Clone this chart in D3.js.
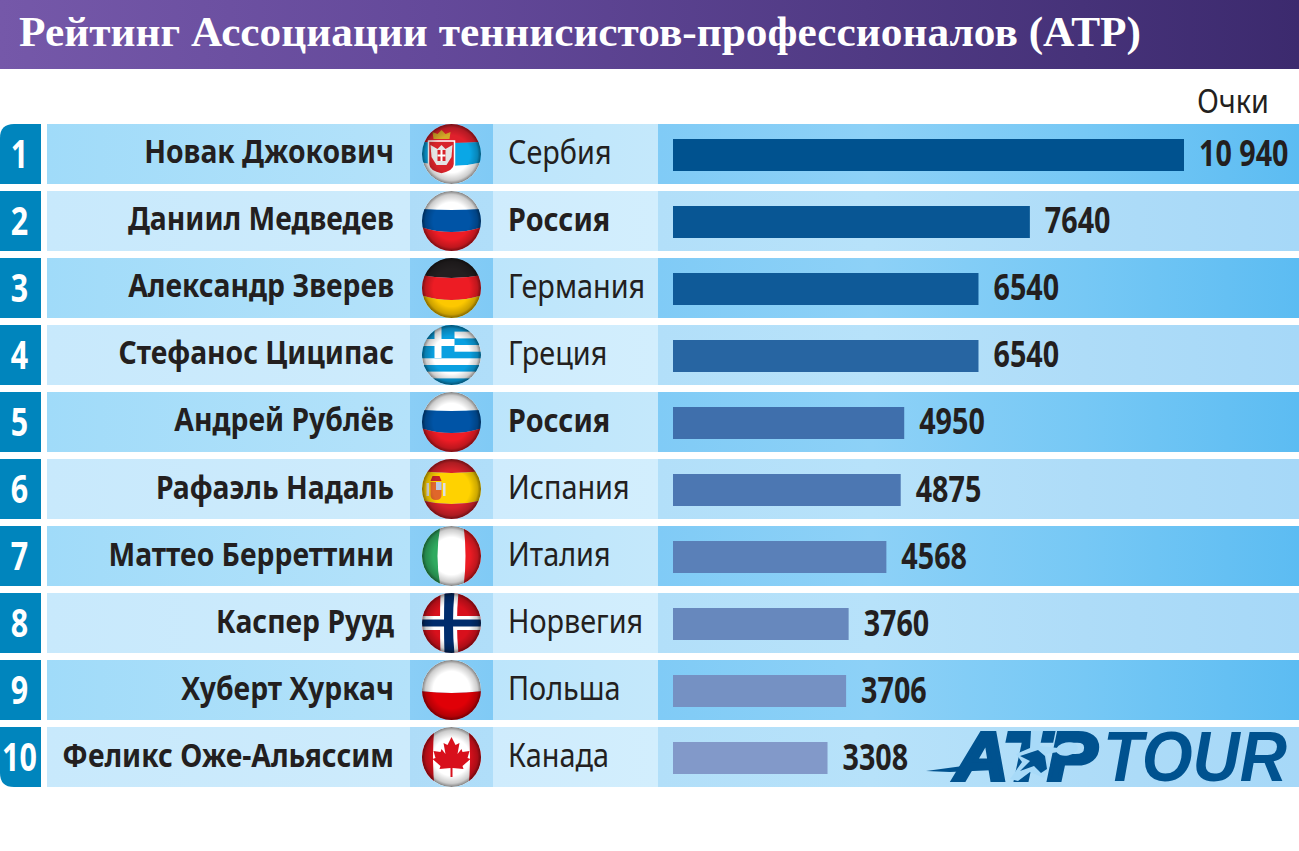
<!DOCTYPE html>
<html>
<head>
<meta charset="utf-8">
<script src="https://d3js.org/d3.v7.min.js"></script>
<style>
    body { margin: 0; background: #fff; }
    svg { display: block; }
    .name { font: bold 32px "Noto Sans", sans-serif; fill: #231f20; }
    .country { font: 32px "Noto Sans", sans-serif; fill: #231f20; }
    .value { font: bold 35px "Noto Sans", sans-serif; fill: #231f20; }
    .rank { font: bold 39px "Noto Sans", sans-serif; fill: #fff; }
</style>
</head>
<body>
<div id="chart"></div>
<script>
const titleText = "Рейтинг Ассоциации теннисистов-профессионалов (ATP)";
const unitLabel = "Очки";
const ranks = [1, 2, 3, 4, 5, 6, 7, 8, 9, 10];
const players = ["Новак Джокович", "Даниил Медведев", "Александр Зверев", "Стефанос Циципас", "Андрей Рублёв",
    "Рафаэль Надаль", "Маттео Берреттини", "Каспер Рууд", "Хуберт Хуркач", "Феликс Оже-Альяссим"];
const countries = ["Сербия", "Россия", "Германия", "Греция", "Россия", "Испания", "Италия", "Норвегия", "Польша", "Канада"];
const points = [10940, 7640, 6540, 6540, 4950, 4875, 4568, 3760, 3706, 3308];
const highlightCountry = "Россия";

const width = 1299;
const height = 851;

const svg = d3.select("#chart").append("svg")
    .attr("width", width)
    .attr("height", height);
const defs = svg.append("defs");

function gradient(id, stops, x1, y1, x2, y2) {
    const g = defs.append("linearGradient").attr("id", id)
        .attr("gradientUnits", "userSpaceOnUse")
        .attr("x1", x1).attr("y1", y1).attr("x2", x2).attr("y2", y2);
    stops.forEach((c, i) => g.append("stop").attr("offset", i / (stops.length - 1)).attr("stop-color", c));
}
gradient("titleBg", ["#7558a9", "#64499a", "#503a84", "#3c2a6e"], 0, 0, 1299, 0);
gradient("nameOdd", ["#a0dbf9", "#b4e2fa"], 47, 0, 410, 0);
gradient("nameEven", ["#c8e9fc", "#cdebfc"], 47, 0, 410, 0);
gradient("flagOdd", ["#8acef6", "#80caf5"], 410, 0, 493, 0);
gradient("flagEven", ["#aedcf8", "#b0def9"], 410, 0, 493, 0);
gradient("countryOdd", ["#bce5fb", "#c4e8fb"], 493, 0, 658, 0);
gradient("countryEven", ["#cfecfd", "#d2eefd"], 493, 0, 658, 0);
gradient("barOdd", ["#80cbf6", "#8dd1f7", "#76c8f5", "#5cbcf2"], 658, 0, 1299, 0);
gradient("barEven", ["#b2dff9", "#b7e2fa", "#aedcf8", "#a6d8f8"], 658, 0, 1299, 0);

const shade = defs.append("radialGradient").attr("id", "globeShade");
shade.append("stop").attr("offset", 0.62).attr("stop-color", "#000").attr("stop-opacity", 0);
shade.append("stop").attr("offset", 0.88).attr("stop-color", "#000").attr("stop-opacity", 0.2);
shade.append("stop").attr("offset", 1).attr("stop-color", "#000").attr("stop-opacity", 0.5);

defs.append("clipPath").attr("id", "globeClip")
    .append("ellipse").attr("rx", 29.5).attr("ry", 30);

// the reference type is condensed, the installed fonts are not: squeeze them
function squeeze(sel, sx, px, py) {
    sel.attr("transform", function (d, i) {
        const tx = typeof px === "function" ? px(d, i) : px;
        return "translate(" + tx + "," + py + ") scale(" + sx + ",1)";
    });
}

// Title band
svg.append("rect").attr("width", width).attr("height", 69).attr("fill", "url(#titleBg)");
svg.append("text")
    .attr("x", 19).attr("y", 46)
    .attr("textLength", 1122).attr("lengthAdjust", "spacingAndGlyphs")
    .style("font", 'bold 43px "Liberation Serif", serif')
    .attr("fill", "#fff")
    .text(titleText);

svg.append("text")
    .attr("text-anchor", "end")
    .attr("transform", "translate(1269,113) scale(0.9,1)")
    .style("font", '32px "Noto Sans", sans-serif')
    .attr("fill", "#231f20")
    .text(unitLabel);

// Scales
const y = d3.scaleBand().domain(ranks).range([124, 787]).paddingInner(0.1045);
const x = d3.scaleLinear().domain([0, d3.max(points)]).range([673, 1184]);
const barColor = d3.scaleLinear().domain([0, 2, 4, 9]).range(["#00528f", "#0f5a98", "#3f6fac", "#8299c9"]);

const rows = svg.selectAll("g.row")
    .data(ranks)
    .enter().append("g")
    .attr("class", "row")
    .attr("transform", d => "translate(0," + y(d) + ")");

const h = y.bandwidth();
const suffix = (d, i) => i % 2 === 0 ? "Odd" : "Even";

// Row cells
[["name", 47, 363], ["flag", 410, 83], ["country", 493, 165], ["bar", 658, 641]].forEach(c => {
    rows.append("rect")
        .attr("x", c[1]).attr("width", c[2]).attr("height", h)
        .attr("fill", (d, i) => "url(#" + c[0] + suffix(d, i) + ")");
});

// Rank boxes (first and last have a rounded outer corner)
rows.append("path")
    .attr("d", (d, i) => {
        const rt = i === 0 ? 14 : 0;
        const rb = i === 9 ? 14 : 0;
        return `M${rt},0H41V${h}H${rb}Q0,${h} 0,${h - rb}V${rt}Q0,0 ${rt},0Z`;
    })
    .attr("fill", "#0085bd");
rows.append("text").attr("class", "rank")
    .attr("text-anchor", "middle")
    .call(squeeze, 0.78, 19.5, h / 2 + 14)
    .text(d => d);

// Text columns
rows.append("text").attr("class", "name")
    .attr("text-anchor", "end")
    .call(squeeze, 0.885, 394, h / 2 + 9.5)
    .text((d, i) => players[i]);
rows.append("text").attr("class", "country")
    .call(squeeze, 0.9, 508, h / 2 + 10)
    .style("font-weight", (d, i) => countries[i] === highlightCountry ? "bold" : "normal")
    .text((d, i) => countries[i]);

// Bars
rows.append("rect")
    .attr("x", x(0)).attr("y", 15)
    .attr("width", (d, i) => x(points[i]) - x(0)).attr("height", 32)
    .attr("fill", (d, i) => barColor(i));
const fmt = v => v >= 10000 ? d3.format(",")(v).replace(",", " ") : String(v);
rows.append("text").attr("class", "value")
    .call(squeeze, 0.82, (d, i) => x(points[i]) + 15, h / 2 + 12.5)
    .text((d, i) => fmt(points[i]));

// Flags, drawn around the centre of a small globe
function band(g, edge0, mid0, edge1, mid1, color) {
    g.append("path")
        .attr("d", `M-31,${edge0}Q0,${2 * mid0 - edge0} 31,${edge0}V${edge1}Q0,${2 * mid1 - edge1} -31,${edge1}Z`)
        .attr("fill", color);
}
function box(g, x0, y0, w, hh, color) {
    g.append("rect").attr("x", x0).attr("y", y0).attr("width", w).attr("height", hh).attr("fill", color);
}
const flags = {
    "Сербия": g => {
        band(g, -31, -31, -12, -11, "#e0202c");
        band(g, -12, -11, 8, 12, "#0aa7e6");
        band(g, 8, 12, 31, 31, "#fff");
        g.append("path").attr("d", "M-23,-13H3V10Q3,17 -10,20Q-23,17 -23,10Z")
            .attr("fill", "#d8232a").attr("stroke", "#fff").attr("stroke-width", 1.5);
        g.append("path").attr("d", "M-21,-9L-14,-5L-10,-9L-6,-5L1,-9L0,3L-5,11H-15L-20,3Z").attr("fill", "#e4e4e4");
        box(g, -14, -4, 8, 11, "#d8232a");
        box(g, -11, -4, 2, 11, "#fff");
        box(g, -14, 0.5, 8, 2, "#fff");
        g.append("path").attr("d", "M-18,-15L-19,-22L-14,-20L-10,-24L-6,-20L-1,-22L-2,-15Z").attr("fill", "#d7a928");
    },
    "Россия": g => {
        band(g, -31, -31, -12, -11, "#fff");
        band(g, -12, -11, 6, 11, "#0054a6");
        band(g, 6, 11, 31, 31, "#ee1c25");
    },
    "Германия": g => {
        band(g, -31, -31, -13, -10, "#231f20");
        band(g, -13, -10, 7, 12, "#ed1c24");
        band(g, 7, 12, 31, 31, "#fdc800");
    },
    "Греция": g => {
        box(g, -31, -31, 62, 62, "#fff");
        [-30, -16.6, -3.3, 10, 23.4].forEach(s => box(g, -31, s, 62, 6.6, "#0aa0e0"));
        box(g, -31, -31, 34, 34, "#0aa0e0");
        box(g, -17, -31, 7, 34, "#fff");
        box(g, -31, -16, 34, 7, "#fff");
    },
    "Испания": g => {
        band(g, -31, -31, -18, -16, "#d8232a");
        band(g, -18, -16, 11, 15, "#ffd200");
        band(g, 11, 15, 31, 31, "#d8232a");
        g.append("path").attr("d", "M-21,-7H-10V6Q-10,11 -15.5,11Q-21,11 -21,6Z").attr("fill", "#e0662a");
        box(g, -15.5, -7, 5.5, 8, "#b9c7e2");
        g.append("path").attr("d", "M-21,-8L-19,-13H-12L-10,-8Z").attr("fill", "#c4242a");
        box(g, -25, -6, 2.5, 13, "#e0e0e0");
        box(g, -8.5, -6, 2.5, 13, "#e0e0e0");
    },
    "Италия": g => {
        box(g, -31, -31, 62, 62, "#fff");
        g.append("path").attr("d", "M-31,-31H-11Q-17,0 -11,31H-31Z").attr("fill", "#2faa5f");
        g.append("path").attr("d", "M31,-31H12Q16,0 12,31H31Z").attr("fill", "#ed1c24");
    },
    "Норвегия": g => {
        box(g, -31, -31, 62, 62, "#d8101c");
        g.append("path").attr("d", "M-11,-31H7Q4,0 7,31H-11Q-12,0 -11,-31Z").attr("fill", "#fff");
        box(g, -31, -7, 62, 14, "#fff");
        g.append("path").attr("d", "M-7,-31H3Q0,0 3,31H-7Q-8,0 -7,-31Z").attr("fill", "#002c6c");
        box(g, -31, -3.5, 62, 7, "#002c6c");
    },
    "Польша": g => {
        band(g, -31, -31, 1, 3, "#fff");
        band(g, 1, 3, 31, 31, "#e00007");
    },
    "Канада": g => {
        box(g, -31, -31, 62, 62, "#fff");
        g.append("path").attr("d", "M-31,-31H-17Q-20,0 -17,31H-31Z").attr("fill", "#d8101c");
        g.append("path").attr("d", "M31,-31H17Q20,0 17,31H31Z").attr("fill", "#d8101c");
        g.append("path")
            .attr("d", "M0,-20L-4,-12L-8,-14L-6,-3L-10,-8L-11,-5L-18,-6L-16,1L-19,2L-11,9L-12,12L-1,11V20H1V11L12,12L11,9L19,2L16,1L18,-6L11,-5L10,-8L6,-3L8,-14L4,-12Z")
            .attr("fill", "#d8101c");
    }
};
rows.each(function (d, i) {
    const g = d3.select(this).append("g")
        .attr("transform", "translate(451.5," + h / 2 + ")")
        .append("g").attr("clip-path", "url(#globeClip)");
    flags[countries[i]](g);
    g.append("ellipse").attr("rx", 29.5).attr("ry", 30).attr("fill", "url(#globeShade)");
});

// ATP TOUR logo
const logo = svg.append("g").attr("fill", "#00528f");
logo.append("path").attr("d", "M926,771L1000,761L996,770L950,772Z");
logo.append("text").attr("x", 955).attr("y", 780)
    .attr("textLength", 142).attr("lengthAdjust", "spacingAndGlyphs")
    .style("font", 'italic bold 68px "Liberation Sans", sans-serif')
    .attr("stroke", "#00528f").attr("stroke-width", 4)
    .text("ATP");
logo.append("text").attr("x", 1103).attr("y", 781)
    .attr("textLength", 184).attr("lengthAdjust", "spacingAndGlyphs")
    .style("font", 'italic bold 70px "Liberation Sans", sans-serif')
    .text("TOUR");
// player: a light cut-out in the letters with the dark figure on it
logo.append("path")
    .attr("d", "M1031,731L1043,731L1040,746L1058,748L1058,752L1046,754L1050,765L1044,778L1030,772L1018,781L1010,779L1022,762L1016,754L1030,748Z")
    .attr("fill", "#a8daf8");
logo.append("path")
    .attr("d", "M1020,756L1038,750L1045,756L1047,769L1041,773L1034,766L1020,771L1030,761Z");
logo.append("ellipse").attr("cx", 1067).attr("cy", 749).attr("rx", 11).attr("ry", 6.5)
    .attr("transform", "rotate(-10 1067 749)")
    .attr("fill", "#a8daf8");
</script>
</body>
</html>
